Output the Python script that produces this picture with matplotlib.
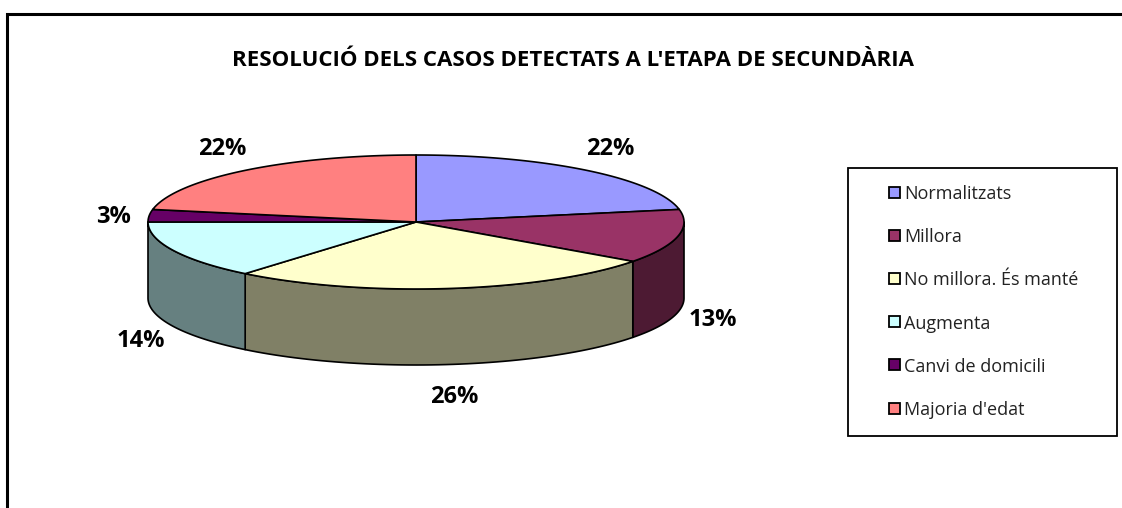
import numpy as np
import matplotlib
matplotlib.use('Agg')
import matplotlib.pyplot as plt
from matplotlib.patches import Polygon, Rectangle

title = "RESOLUCIÓ DELS CASOS DETECTATS A L'ETAPA DE SECUNDÀRIA"
categories = ['Normalitzats', 'Millora', 'No millora. És manté', 'Augmenta',
              'Canvi de domicili', "Majoria d'edat"]
values = [22, 13, 26, 14, 3, 22]
colors = ['#9999FF', '#993366', '#FFFFCC', '#CCFFFF', '#660066', '#FF8080']

W, H = 1122, 508
fig = plt.figure(figsize=(W / 100, H / 100), dpi=100)
ax = fig.add_axes([0, 0, 1, 1])
ax.set_xlim(0, W)
ax.set_ylim(H, 0)
ax.axis('off')

# pie geometry (pixels)
cx, cy = 416, 222
rx, ry = 268, 67
depth = 76


def darker(c, f=0.5):
    r, g, b = matplotlib.colors.to_rgb(c)
    return (r * f, g * f, b * f)


def pt(theta, dy=0.0):
    # theta in degrees, clockwise from 12 o'clock
    t = np.radians(theta)
    return cx + rx * np.sin(t), cy - ry * np.cos(t) + dy


total = sum(values)
bounds = np.concatenate([[0], np.cumsum(values)]) / total * 360

# side walls (only the front half, 90..270 deg, is visible)
for i, c in enumerate(colors):
    a0, a1 = max(bounds[i], 90), min(bounds[i + 1], 270)
    if a1 <= a0:
        continue
    th = np.linspace(a0, a1, 60)
    top = [pt(t) for t in th]
    bot = [pt(t, depth) for t in th[::-1]]
    ax.add_patch(Polygon(top + bot, closed=True, facecolor=darker(c),
                         edgecolor='black', linewidth=1.2, joinstyle='round'))

# top face
for i, c in enumerate(colors):
    th = np.linspace(bounds[i], bounds[i + 1], 80)
    poly = [(cx, cy)] + [pt(t) for t in th]
    ax.add_patch(Polygon(poly, closed=True, facecolor=c,
                         edgecolor='black', linewidth=1.2, joinstyle='round'))

# percentage labels
for i, v in enumerate(values):
    mid = np.radians((bounds[i] + bounds[i + 1]) / 2)
    lx = cx + 304 * np.sin(mid)
    ly = cy + 4 - 100 * np.cos(mid) + (72 if np.cos(mid) < 0 else 0)
    ax.text(lx, ly, f'{v}%', ha='center', va='center', fontsize=17,
            fontweight='bold', family='Open Sans')

ax.text(573, 60, title, ha='center', va='center', fontsize=16,
        fontweight='bold', family='Open Sans')

# legend
ax.add_patch(Rectangle((848, 168), 269, 268, facecolor='white',
                       edgecolor='black', linewidth=1.3))
for k, (lab, c) in enumerate(zip(categories, colors)):
    yy = 192 + k * 43.2
    ax.add_patch(Rectangle((889, yy - 5.5), 11, 11, facecolor=c,
                           edgecolor='black', linewidth=1.3))
    ax.text(904, yy + 2, lab, ha='left', va='center', fontsize=13,
            family='Open Sans', color='#222222')

# chart area border
ax.plot([7, 7, W + 5], [H + 5, 14, 14], color='black', linewidth=2.2,
        solid_joinstyle='miter', clip_on=False)

fig.savefig('out.png', dpi=100)
